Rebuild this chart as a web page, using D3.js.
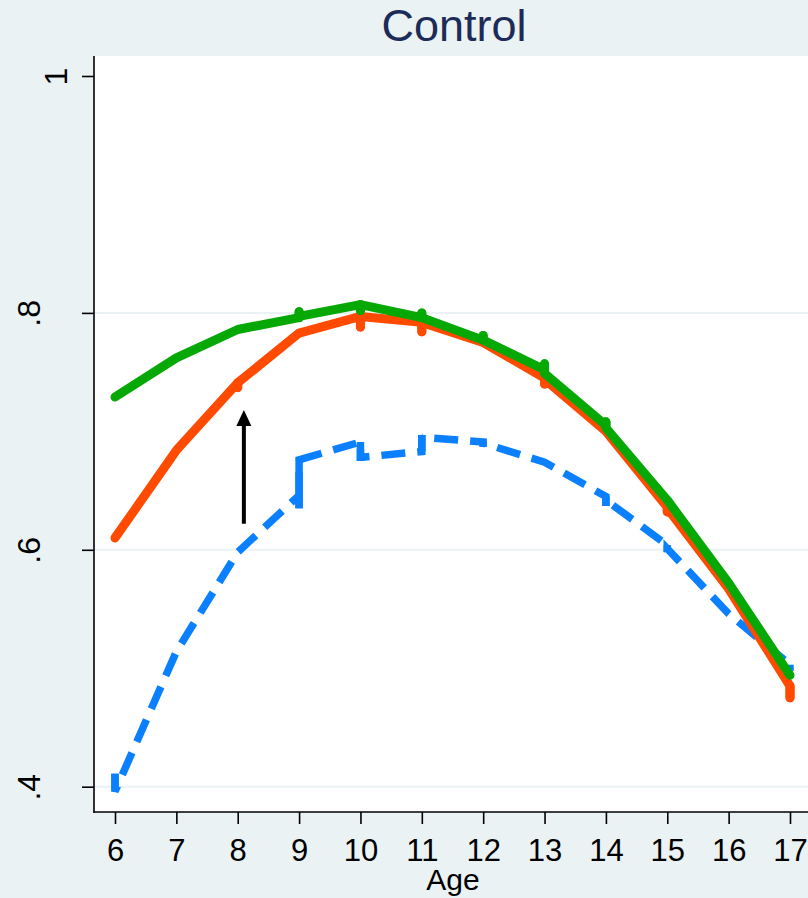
<!DOCTYPE html>
<html>
<head>
<meta charset="utf-8">
<script src="https://cdn.jsdelivr.net/npm/d3@7/dist/d3.min.js"></script>
<style>
  html, body { margin: 0; padding: 0; background: #eaf2f3; overflow: hidden; }
  svg { display: block; font-family: "Liberation Sans", Arial, Helvetica, sans-serif; }
</style>
</head>
<body>
<svg id="chart" width="808" height="898"></svg>
<script>
// Share by age, control group. Each age holds the observations in plotting order;
// ages with several observations get a vertical spike across their range.
const title = "Control";
const xLabel = "Age";
const ages = [6, 7, 8, 9, 10, 11, 12, 13, 14, 15, 16, 17];
const yTicks = [0.4, 0.6, 0.8, 1];
const yTickLabels = [".4", ".6", ".8", "1"];
const yGrid = [0.4, 0.6, 0.8];

const blueValues = [
  [0.411, 0.396], [0.514], [0.598], [0.646, 0.635, 0.676], [0.691, 0.675, 0.678],
  [0.683, 0.697, 0.695], [0.691, 0.687, 0.690], [0.674], [0.645, 0.637, 0.642],
  [0.604, 0.598, 0.601], [0.546], [0.503, 0.498]
];
const orangeValues = [
  [0.610], [0.684], [0.741, 0.737, 0.741], [0.783], [0.797, 0.788, 0.797],
  [0.792, 0.784, 0.792], [0.775], [0.745, 0.740, 0.744], [0.700],
  [0.636, 0.632, 0.635], [0.567], [0.485, 0.475]
];
const greenValues = [
  [0.729], [0.762], [0.786], [0.796, 0.801, 0.797], [0.807, 0.802, 0.807],
  [0.796, 0.800, 0.796], [0.777, 0.781, 0.777], [0.752, 0.757, 0.749],
  [0.705, 0.708, 0.703], [0.642], [0.572], [0.494]
];

// Arrow marking the gap at age 8
const arrowAge = 8.1;
const arrowFrom = 0.622;
const arrowTo = 0.718;

const svg = d3.select("#chart");
const W = 808, H = 898;
const plot = { left: 94, top: 56, right: 811, bottom: 812 };

const x = d3.scaleLinear().domain([6, 17]).range([115, 790]);
const y = d3.scaleLinear().domain([0.4, 1]).range([786.7, 76]);

// backgrounds
svg.append("rect").attr("width", W).attr("height", H).attr("fill", "#eaf2f3");
svg.append("rect")
  .attr("x", plot.left).attr("y", plot.top)
  .attr("width", plot.right - plot.left).attr("height", plot.bottom - plot.top)
  .attr("fill", "#ffffff");

// grid
svg.append("g").selectAll("line").data(yGrid).join("line")
  .attr("x1", plot.left).attr("x2", plot.right)
  .attr("y1", d => y(d)).attr("y2", d => y(d))
  .attr("stroke", "#eaf2f3").attr("stroke-width", 2);

svg.append("clipPath").attr("id", "plotclip").append("rect")
  .attr("x", plot.left).attr("y", plot.top)
  .attr("width", plot.right - plot.left).attr("height", plot.bottom - plot.top);
const series = svg.append("g").attr("clip-path", "url(#plotclip)");

const line = d3.line().x(d => x(d.age)).y(d => y(d.v));
const flatten = vals => ages.flatMap((a, i) => vals[i].map(v => ({ age: a, v })));
const spikes = vals => ages.map((a, i) => ({ age: a, lo: d3.min(vals[i]), hi: d3.max(vals[i]) }))
  .filter(d => d.hi > d.lo);

function drawSeries(vals, color, width, dashed) {
  const g = series.append("g");
  g.append("path")
    .datum(flatten(vals))
    .attr("d", line)
    .attr("fill", "none")
    .attr("stroke", color)
    .attr("stroke-width", width)
    .attr("stroke-dasharray", dashed ? "24,12" : null)
    .attr("stroke-linecap", dashed ? "butt" : "round")
    .attr("stroke-linejoin", dashed ? "miter" : "round");
  g.selectAll("line.spike").data(spikes(vals)).join("line")
    .attr("class", "spike")
    .attr("x1", d => x(d.age)).attr("x2", d => x(d.age))
    .attr("y1", d => y(d.lo)).attr("y2", d => y(d.hi))
    .attr("stroke", color)
    .attr("stroke-width", width)
    .attr("stroke-linecap", dashed ? "butt" : "round");
}

drawSeries(blueValues, "#0a80ff", 7.5, true);
drawSeries(orangeValues, "#ff4a00", 9, false);
drawSeries(greenValues, "#06a806", 9, false);

// arrow
const ax = x(arrowAge), ay0 = y(arrowFrom), ay1 = y(arrowTo);
const headLen = 16, headHalf = 7.5;
svg.append("line")
  .attr("x1", ax).attr("x2", ax)
  .attr("y1", ay0).attr("y2", ay1 + headLen - 1)
  .attr("stroke", "#000").attr("stroke-width", 4);
svg.append("path")
  .attr("d", `M${ax},${ay1} L${ax - headHalf},${ay1 + headLen} L${ax + headHalf},${ay1 + headLen} Z`)
  .attr("fill", "#000");

// axes frame lines
svg.append("line")
  .attr("x1", plot.left).attr("x2", plot.left)
  .attr("y1", plot.top).attr("y2", plot.bottom + 0.75)
  .attr("stroke", "#000").attr("stroke-width", 1.6);
svg.append("line")
  .attr("x1", plot.left - 0.75).attr("x2", plot.right)
  .attr("y1", plot.bottom).attr("y2", plot.bottom)
  .attr("stroke", "#000").attr("stroke-width", 1.6);

// x axis
const xAxis = d3.axisBottom(x).tickValues(ages).tickSize(12).tickSizeOuter(0).tickFormat(d3.format("d"));
const gx = svg.append("g").attr("transform", `translate(0,${plot.bottom})`).call(xAxis);
gx.select(".domain").remove();
gx.selectAll(".tick line").attr("stroke", "#000").attr("stroke-width", 1.6);
gx.selectAll(".tick text")
  .attr("y", 49).attr("dy", 0)
  .attr("fill", "#000")
  .style("font-size", "31px")
  .style("font-family", '"Liberation Sans", Arial, sans-serif');

// y axis with rotated labels
const yAxis = d3.axisLeft(y).tickValues(yTicks).tickSize(12).tickSizeOuter(0)
  .tickFormat((d, i) => yTickLabels[i]);
const gy = svg.append("g").attr("transform", `translate(${plot.left},0)`).call(yAxis);
gy.select(".domain").remove();
gy.selectAll(".tick line").attr("stroke", "#000").attr("stroke-width", 1.6);
gy.selectAll(".tick text")
  .attr("x", null).attr("dy", null)
  .attr("text-anchor", "middle")
  .attr("transform", (d, i) => `translate(${yTickLabels[i].startsWith(".") ? -54 : -27},0) rotate(-90)`)
  .attr("fill", "#000")
  .style("font-size", "32px")
  .style("font-family", '"Liberation Sans", Arial, sans-serif');

// axis title
svg.append("text")
  .attr("x", 453).attr("y", 890)
  .attr("text-anchor", "middle")
  .attr("fill", "#000")
  .style("font-size", "30px")
  .text(xLabel);

// chart title
svg.append("text")
  .attr("x", 454).attr("y", 41)
  .attr("text-anchor", "middle")
  .attr("fill", "#1c2b57")
  .style("font-size", "45px")
  .text(title);
</script>
</body>
</html>
